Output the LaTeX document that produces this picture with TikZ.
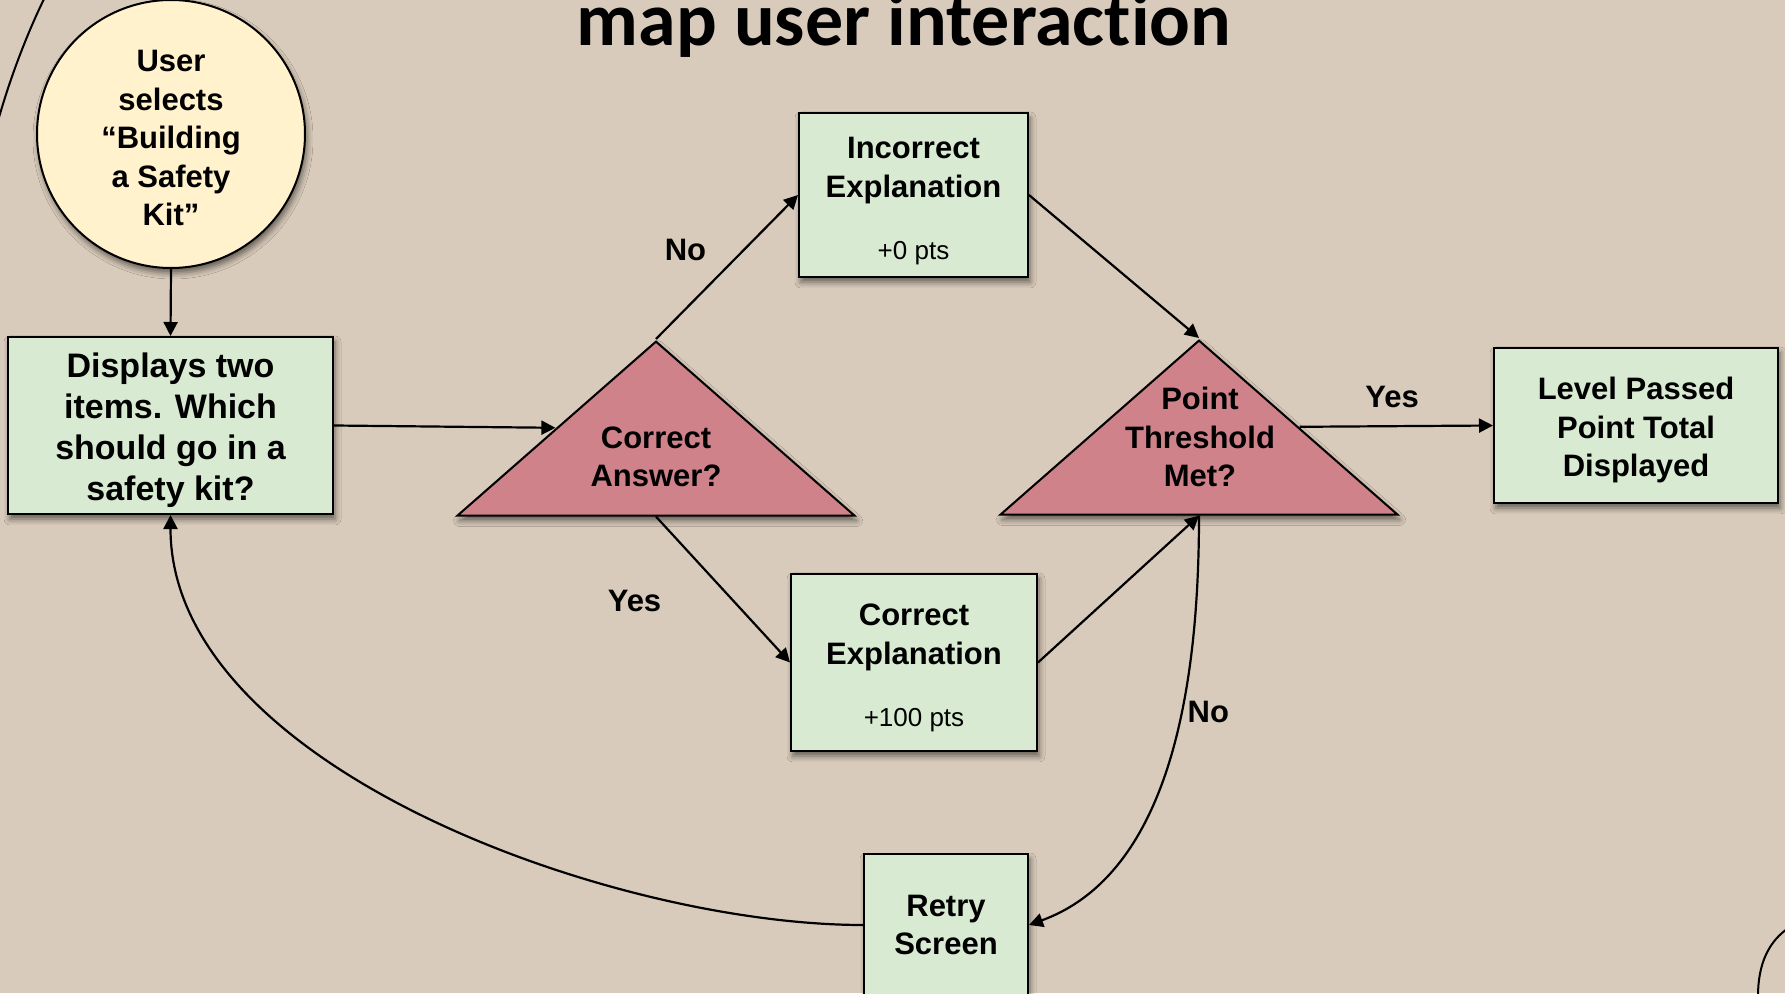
\documentclass[tikz,border=0pt]{standalone}
\usepackage{fontspec}
\setmainfont{Liberation Sans}
\newfontfamily\titlefont[Ligatures={NoCommon,NoRequired,NoContextual}]{Carlito}
\usepackage{tikz}
\usetikzlibrary{arrows.meta,shapes.geometric,shadows.blur}
\definecolor{slideTan}{HTML}{D9CBBB}
\definecolor{stepGreen}{HTML}{D9EAD3}
\definecolor{checkRose}{HTML}{CF8289}
\definecolor{startCream}{HTML}{FFF2CC}
\newcommand{\boxfont}{\fontsize{15.5}{19.3}\selectfont\bfseries}
\newcommand{\askfont}{\fontsize{17}{20.5}\selectfont\bfseries}
\newcommand{\ptsfont}{\fontsize{13}{15}\selectfont\mdseries}
% strut that pushes a text block down a little
\newcommand{\topstrut}[1]{\rule{0pt}{#1}}
\tikzset{
  softshadow/.style={blur shadow={shadow xshift=1pt, shadow yshift=-2.5pt, shadow blur radius=3pt, shadow opacity=55}},
  stepbox/.style={rectangle, draw=black, fill=stepGreen, line width=1pt, align=center, font=\boxfont, inner sep=0pt, softshadow},
  checktri/.style={isosceles triangle, isosceles triangle stretches, shape border rotate=90, draw=black, fill=checkRose, line width=1pt, inner sep=0pt, minimum width=198.5pt, minimum height=87pt, softshadow},
  checktext/.style={align=center, font=\boxfont, inner sep=0pt},
  startnode/.style={circle, draw=black, fill=startCream, line width=1pt, align=center, font=\boxfont, inner sep=0pt, minimum size=134pt, softshadow},
  flowarrow/.style={-{Triangle[length=7pt,width=7pt]}, line width=1.1pt, draw=black},
  branchlabel/.style={font=\boxfont, inner sep=1pt},
  edgecurve/.style={line width=1pt, draw=black},
}

\begin{document}
\begin{tikzpicture}[x=0.5pt,y=0.5pt]
  % slide background
  \fill[slideTan] (0,0) rectangle (1785,993);
  \useasboundingbox (0,0) rectangle (1785,993);
  \clip (0,0) rectangle (1785,993);

  % corner swirls
  \draw[edgecurve] (46,998) .. controls (28,962) and (10,915) .. (-2,872);
  \draw[edgecurve] (1790,66) .. controls (1768,52) and (1758,28) .. (1758,-3);

  % title (kern keeps "ti" from joining)
  \node[font=\titlefont\fontsize{38}{44}\selectfont\bfseries, anchor=base, inner sep=0pt] (title) at (904,947) {map user interact\kern0pt ion};

  % start and question
  \node[startnode] (start) at (171,859) {\topstrut{14.8pt}User\\selects\\“Building\\a Safety\\Kit”};
  \node[stepbox, font=\askfont, minimum width=162.5pt, minimum height=88.5pt] (ask) at (170.5,567.5) {\topstrut{17.5pt}Displays two\\items. Which\\should go in a\\safety kit?};

  % decisions
  \node[checktri, anchor=apex] (answer) at (656,654) {};
  \node[checktext] (answerText) at (656,536) {Correct\\Answer?};
  \node[checktri, anchor=apex] (threshold) at (1199,655) {};
  \node[checktext] (thresholdText) at (1200,556) {Point\\Threshold\\Met?};

  % explanations
  \node[stepbox, minimum width=114.5pt, minimum height=82pt] (wrong) at (913.5,798) {\topstrut{17pt}Incorrect\\Explanation\\[12pt]{\ptsfont +0 pts}};
  \node[stepbox, minimum width=123pt, minimum height=88.5pt] (right) at (914,330.5) {\topstrut{16.5pt}Correct\\Explanation\\[12pt]{\ptsfont +100 pts}};

  % outcomes
  \node[stepbox, minimum width=142pt, minimum height=77.5pt] (level) at (1636,567.5) {\topstrut{16pt}Level Passed\\Point Total\\Displayed};
  \node[stepbox, minimum width=82pt, minimum height=71pt] (retry) at (946,68) {Retry\\Screen};

  % Arrows
  \draw[flowarrow] (start.south) -- (ask.north);
  \draw[flowarrow] (ask.east) -- (answer.left side);
  \draw[flowarrow] (answer.apex) -- node[branchlabel, xshift=-20.75pt, yshift=8.5pt] (noWrong) {No} (wrong.west);
  \draw[flowarrow] (answer.lower side) -- node[branchlabel, xshift=-44.25pt, yshift=-5.6pt] (yesRight) {Yes} (right.west);
  \draw[flowarrow] (wrong.east) -- (threshold.apex);
  \draw[flowarrow] (right.east) -- (threshold.lower side);
  \draw[flowarrow] (threshold.right side) -- node[branchlabel, xshift=-2.1pt, yshift=14.75pt] (yesPass) {Yes} (level.west);
  \draw[flowarrow] (threshold.lower side) to[out=-90, in=20, looseness=0.9] node[branchlabel, pos=0.4, xshift=13.5pt] (noRetry) {No} (retry.east);
  \draw[flowarrow] (retry.west) to[out=180, in=-90, looseness=0.8] (ask.south);
\end{tikzpicture}
\end{document}
